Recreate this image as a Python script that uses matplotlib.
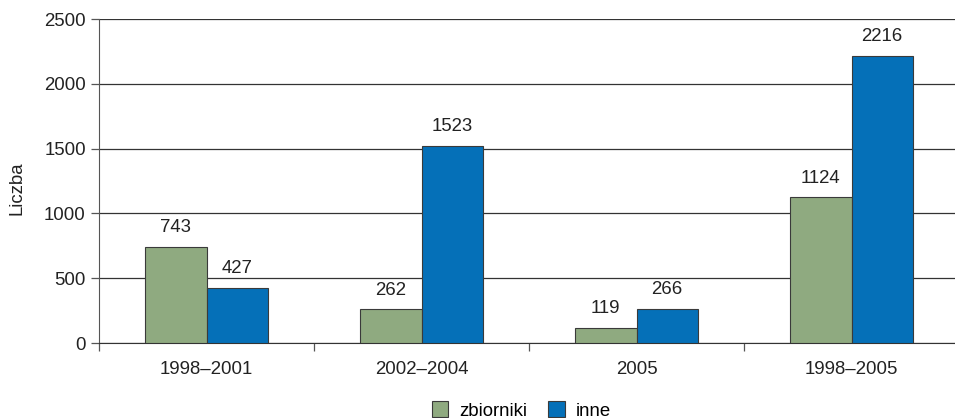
import numpy as np
from matplotlib import pyplot as plt
from matplotlib.patches import Patch

plt.rcParams['font.family'] = ['Liberation Sans', 'DejaVu Sans']

# data
categories = ['1998–2001', '2002–2004', '2005', '1998–2005']
zbiorniki = [743, 262, 119, 1124]
inne = [427, 1523, 266, 2216]

c_green = '#8FAA80'
c_blue = '#0570B8'
fs = 13.4

fig = plt.figure(figsize=(9.55, 4.18), dpi=100)
ax = fig.add_axes([99/955, 1 - 343/418, 860/955, 324/418])

x = np.arange(len(categories))
w = 0.286
ax.bar(x - w/2, zbiorniki, w, color=c_green, edgecolor='#3a3a3a', linewidth=0.8, zorder=3)
ax.bar(x + w/2, inne, w, color=c_blue, edgecolor='#3a3a3a', linewidth=0.8, zorder=3)

for xi, v in zip(x, zbiorniki):
    ax.text(xi - w/2, v + 80, str(v), ha='center', va='bottom', fontsize=fs, color='#222222')
for xi, v in zip(x, inne):
    ax.text(xi + w/2, v + 80, str(v), ha='center', va='bottom', fontsize=fs, color='#222222')

ax.set_xlim(-0.5, 3.5)
ax.set_ylim(0, 2500)
ax.set_yticks(range(0, 2501, 500))
ax.yaxis.grid(True, color='#333333', linewidth=0.9, zorder=0)
ax.set_axisbelow(True)

ax.set_xticks(x)
ax.set_xticklabels(categories, fontsize=fs, color='#222222')
ax.set_xticks(np.arange(-0.5, 3.6, 1.0), minor=True)
ax.tick_params(axis='x', which='major', length=0, pad=13)
ax.tick_params(axis='x', which='minor', length=6, width=0.9, color='#555555')
ax.tick_params(axis='y', length=6, width=0.9, color='#555555', labelsize=fs, labelcolor='#222222')

for s in ['top', 'right']:
    ax.spines[s].set_visible(False)
ax.spines['left'].set_color('#555555')
ax.spines['bottom'].set_color('#333333')

ax.set_ylabel('Liczba', fontsize=fs, color='#222222')
ax.yaxis.set_label_coords(-0.085, 0.478)

handles = [Patch(facecolor=c_green, edgecolor='#3a3a3a', linewidth=0.8),
           Patch(facecolor=c_blue, edgecolor='#3a3a3a', linewidth=0.8)]
fig.legend(handles, ['zbiorniki', 'inne'], loc='center', bbox_to_anchor=(0.546, 0.018),
           ncol=2, frameon=False, fontsize=fs, handlelength=0.9, handleheight=0.9,
           columnspacing=1.1, handletextpad=0.6)

fig.savefig('out.png', dpi=100)
